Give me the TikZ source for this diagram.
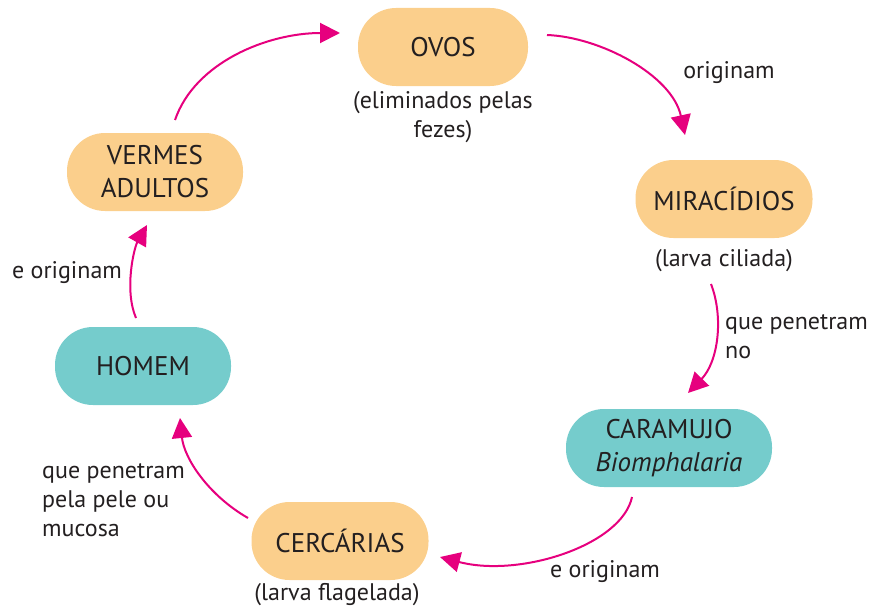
\documentclass[tikz,border=0pt]{standalone}
\usepackage{fontspec}
\setmainfont{PT Sans}
\usetikzlibrary{arrows.meta}
\definecolor{pillorange}{HTML}{FBCF8C}
\definecolor{pillteal}{HTML}{75CCCC}
\definecolor{arrowpink}{HTML}{E6007E}
\definecolor{txt}{HTML}{231F20}
\tikzset{
  pill/.style={rounded corners=38pt, minimum height=78pt, inner sep=0pt, align=center,
    text=txt, font=\fontsize{27}{33}\selectfont},
  orangepill/.style={pill, fill=pillorange},
  tealpill/.style={pill, fill=pillteal},
  lbl/.style={text=txt, font=\fontsize{24}{29}\selectfont, inner sep=0pt},
  cyc/.style={draw=arrowpink, line width=2pt, -{Triangle[length=20pt,width=20pt]}}
}
\begin{document}
\begin{tikzpicture}[x=1pt,y=1pt]
\useasboundingbox (0,0) rectangle (875,-610);
% nodes
\node[orangepill, minimum width=170pt] (ovos) at (443,-47) {OVOS};
\node[lbl, align=center] (ovosl) at (443,-117) {(eliminados pelas\\fezes)};
\node[orangepill, minimum width=177pt] (mira) at (724,-199) {MIRACÍDIOS};
\node[lbl] (miral) at (724,-261) {(larva ciliada)};
\node[tealpill, minimum width=206pt] (cara) at (669,-448) {CARAMUJO\\\itshape Biomphalaria};
\node[orangepill, minimum width=177pt] (cerc) at (340,-541) {CERCÁRIAS};
\node[lbl] (cercl) at (337,-595) {(larva flagelada)};
\node[tealpill, minimum width=176pt] (homem) at (143,-366) {HOMEM};
\node[orangepill, minimum width=176pt] (vermes) at (155,-172) {VERMES\\ADULTOS};
% labels
\node[lbl] (l1) at (729,-73) {originam};
\node[lbl, align=left, anchor=west] (l2) at (725,-337) {que penetram\\no};
\node[lbl] (l3) at (605,-572) {e originam};
\node[lbl, align=left, anchor=west] (l4) at (42,-500) {que penetram\\pela pele ou\\mucosa};
\node[lbl] (l5) at (67,-273) {e originam};
% arrow ends
\coordinate (a1s) at (547,-35);  \coordinate (a1e) at (685,-135);
\coordinate (a2s) at (711,-284); \coordinate (a2e) at (688,-393);
\coordinate (a3s) at (632,-497); \coordinate (a3e) at (440,-557);
\coordinate (a4s) at (248,-518); \coordinate (a4e) at (180,-418);
\coordinate (a5s) at (136,-318); \coordinate (a5e) at (147,-225);
\coordinate (a6s) at (175,-120); \coordinate (a6e) at (340,-33);
% arrows
\draw[cyc] (a1s) .. controls (600,-37) and (672,-75) .. (a1e);
\draw[cyc] (a2s) .. controls (724,-318) and (718,-362) .. (a2e);
\draw[cyc] (a3s) .. controls (622,-545) and (520,-578) .. (a3e);
\draw[cyc] (a4s) .. controls (208,-495) and (184,-458) .. (a4e);
\draw[cyc] (a5s) .. controls (124,-290) and (134,-248) .. (a5e);
\draw[cyc] (a6s) .. controls (195,-62) and (268,-33) .. (a6e);
\end{tikzpicture}
\end{document}
